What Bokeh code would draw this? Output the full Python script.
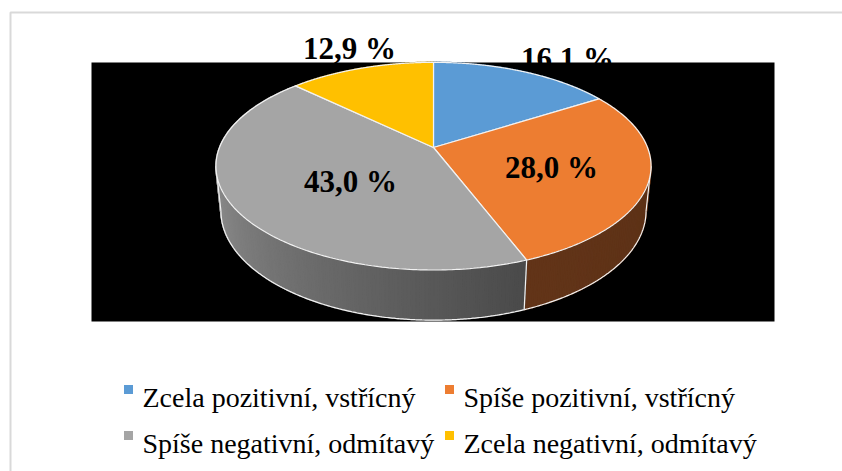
import numpy as np
from bokeh.plotting import figure
from bokeh.models import Range1d
from bokeh.embed import file_html
from bokeh.resources import INLINE
from bokeh.core.properties import value

# ---------------- data ----------------
categories = ["Zcela pozitivní, vstřícný", "Spíše pozitivní, vstřícný",
              "Spíše negativní, odmítavý", "Zcela negativní, odmítavý"]
shares = [16.1, 28.0, 43.0, 12.9]
label_texts = ["16,1 %", "28,0 %", "43,0 %", "12,9 %"]

# ---------------- styles / layout ----------------
colors = ["#5B9BD5", "#ED7D31", "#A5A5A5", "#FFC000"]
side_dark = ["#2E5273", "#5C3116", "#4A4A4A", "#7F6000"]
side_light = ["#3D6D99", "#633519", "#8F8F8F", "#A07800"]
label_pos = [(567, 58), (551, 167), (350, 181), (349, 48)]   # anchor (x, baseline)
legend_cols_x = [128, 449]
legend_rows_y = [389, 435]

W, H = 842, 471
CX, CY = 433.0, 147.0
R = 214.0
ELEV = np.radians(28.0)
DIST = 1050.0
DEPTH = 51.0


def proj(theta_deg, Y):
    th = np.radians(theta_deg)
    X = R * np.sin(th)
    Z = R * np.cos(th)
    t = -Z * np.cos(ELEV) + Y * np.sin(ELEV)
    s = DIST / (DIST - t)
    u = X * s
    v = (Z * np.sin(ELEV) + Y * np.cos(ELEV)) * s
    return CX + u, CY - v, t


p = figure(width=W, height=H, output_backend="svg", toolbar_location=None,
           x_range=Range1d(0, W), y_range=Range1d(H, 0),
           min_border=0, background_fill_color="white", border_fill_color="white")
p.axis.visible = False
p.grid.visible = False
p.outline_line_color = None

FONT = value("Liberation Serif")

# outer frame (chart area border)
p.quad(left=[10], right=[1000], top=[12], bottom=[1000], fill_color=None,
       line_color="#D9D9D9", line_width=2)

# the label that sits partly behind the plot area is drawn first
p.text(x=[label_pos[0][0]], y=[label_pos[0][1]], text=[label_texts[0]],
       text_font=FONT, text_font_style="bold", text_font_size="31px",
       text_align="center", text_baseline="alphabetic", text_color="black")

# black plot area
p.quad(left=[91], right=[774], top=[62], bottom=[321], fill_color="black", line_color=None)

# angles
tot = sum(shares)
bounds = [0.0]
for v in shares:
    bounds.append(bounds[-1] + v / tot * 360.0)

# silhouettes
grid = np.linspace(0, 360, 3601)
gx, _, _ = proj(grid, 0.0)
th_right = grid[:1801][np.argmax(gx[:1801])]
th_left = grid[1800:][np.argmin(gx[1800:])]

# side strips (painter's algorithm)
strips = []
for i in range(len(shares)):
    a0, a1 = bounds[i], bounds[i + 1]
    n = max(2, int((a1 - a0) / 1.0))
    ths = np.linspace(a0, a1, n + 1)
    va0, va1 = max(a0, th_right), min(a1, th_left)
    for j in range(n):
        t0, t1 = ths[j], ths[j + 1]
        x0, y0, _ = proj(t0, 0.0)
        x1, y1, _ = proj(t1, 0.0)
        x2, y2, _ = proj(t1, -DEPTH)
        x3, y3, _ = proj(t0, -DEPTH)
        _, _, tm = proj((t0 + t1) / 2, -DEPTH / 2)
        if va1 > va0:
            f = np.clip(((t0 + t1) / 2 - va0) / (va1 - va0), 0, 1)
        else:
            f = 0.5
        cd = np.array([int(side_dark[i][k:k + 2], 16) for k in (1, 3, 5)])
        cl = np.array([int(side_light[i][k:k + 2], 16) for k in (1, 3, 5)])
        c = (cd + (cl - cd) * f).astype(int)
        col = "#%02X%02X%02X" % tuple(c)
        strips.append((tm, [x0, x1, x2, x3], [y0, y1, y2, y3], col))
strips.sort(key=lambda s: s[0])
p.patches(xs=[s[1] for s in strips], ys=[s[2] for s in strips],
          fill_color=[s[3] for s in strips], line_color=[s[3] for s in strips],
          line_width=1.6)

# white edges of the side wall
bth = np.linspace(th_right, th_left, 400)
bx, by, _ = proj(bth, -DEPTH)
p.line(bx, by, line_color="#F2F2F2", line_width=1.2)
edge_angles = [th_right, th_left] + [b for b in bounds[1:-1] if th_right < b < th_left]
for a in edge_angles:
    xa, ya, _ = proj(a, 0.0)
    xb, yb, _ = proj(a, -DEPTH)
    p.line([xa, xb], [ya, yb], line_color="#F2F2F2", line_width=1.2)

# top face wedges
wx, wy = [], []
for i in range(len(shares)):
    ths = np.linspace(bounds[i], bounds[i + 1], 200)
    ax, ay, _ = proj(ths, 0.0)
    wx.append([CX] + list(ax))
    wy.append([CY] + list(ay))
p.patches(xs=wx, ys=wy, fill_color=colors, line_color="#F2F2F2", line_width=1.2)

# remaining data labels
p.text(x=[q[0] for q in label_pos[1:]], y=[q[1] for q in label_pos[1:]], text=label_texts[1:],
       text_font=FONT, text_font_style="bold", text_font_size="31px",
       text_align="center", text_baseline="alphabetic", text_color="black")

# legend
lx, ly = [], []
for r in range(2):
    for c in range(2):
        lx.append(legend_cols_x[c])
        ly.append(legend_rows_y[r])
p.scatter(x=lx, y=ly, marker="square", size=9, fill_color=colors, line_color=None)
p.text(x=[x + 14 for x in lx], y=[y + 8 for y in ly],
       text=categories, text_font=FONT, text_font_size="28px",
       text_align="left", text_baseline="alphabetic", text_color="black")

open("out.html", "w").write(file_html(p, INLINE))
